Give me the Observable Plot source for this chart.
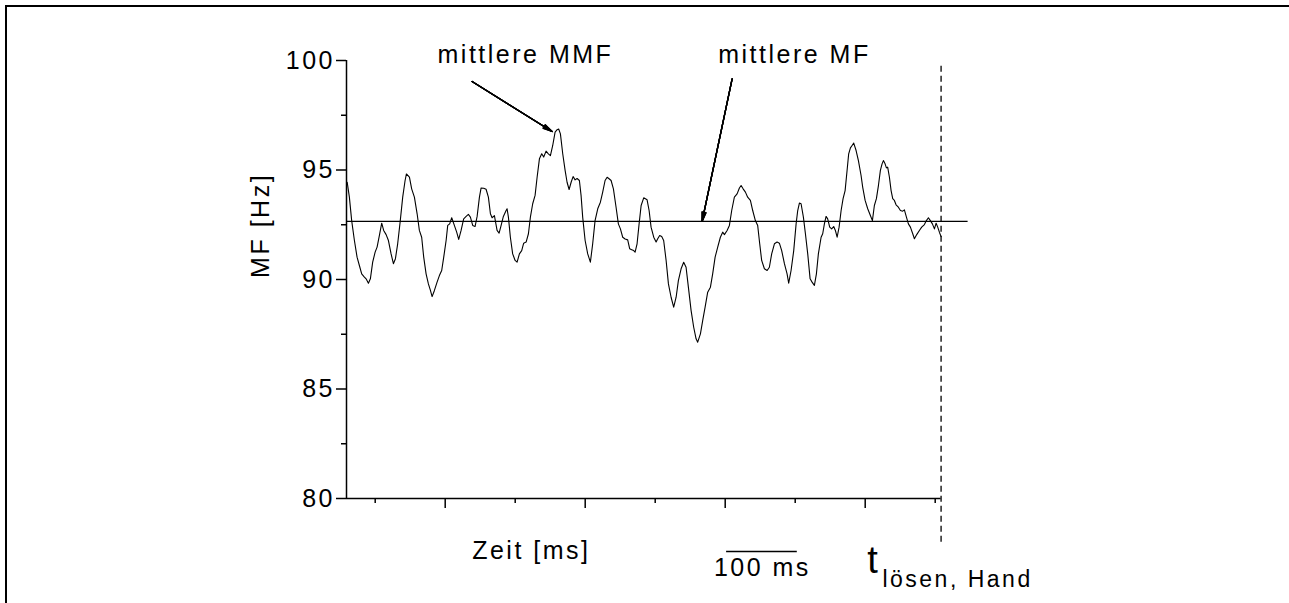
<!DOCTYPE html>
<html>
<head>
<meta charset="utf-8">
<script src="https://cdn.jsdelivr.net/npm/d3@7"></script>
<script src="https://cdn.jsdelivr.net/npm/@observablehq/plot@0.6"></script>
<style>
  html, body { margin: 0; padding: 0; background: #fff; }
  #chart { position: relative; width: 1289px; height: 603px; overflow: hidden; }
  #chart svg { position: absolute; left: 0; top: 0; }
  #rahmen { position: absolute; left: 5px; top: 5px; right: -4px; bottom: -4px;
            border-top: 2px solid #000; border-left: 2px solid #000; pointer-events: none; }
</style>
</head>
<body>
<div id="chart"></div>
<script>
// Median frequency (MF) of the EMG signal over time, up to the release of the hand
const timeMs = [
  60, 63.1, 66.4, 70.3, 74.1, 77.4, 80.7, 84.6, 87.0, 90.3, 93.1, 96.4, 99.9, 102.7, 106.0, 109.3,
  112.1, 115.6, 118.9, 122.7, 126.0, 128.9, 132.1, 135.6, 139.3, 142.7, 144.6, 148.9, 152.1, 156.0,
  159.9, 163.1, 166.4, 169.3, 172.7, 176.0, 178.9, 181.3, 184.6, 188.4, 191.7, 195.0, 197.9, 201.3,
  203.6, 206.4, 209.3, 213.1, 216.4, 219.3, 222.7, 226.4, 229.9, 233.1, 236.0, 239.3, 242.7, 245.6,
  248.9, 251.3, 255.0, 258.4, 261.7, 264.6, 267.0, 270.3, 274.1, 277.0, 279.9, 283.1, 287.0, 288.4,
  290.3, 293.1, 296.4, 299.9, 302.7, 306.0, 309.3, 312.1, 315.6, 318.9, 321.7, 325.0, 328.4, 331.3,
  334.6, 337.9, 340.7, 344.1, 347.4, 350.3, 353.6, 357.0, 359.9, 362.1, 364.6, 367.9, 371.3, 374.1,
  377.0, 379.9, 382.7, 385.6, 388.4, 391.7, 394.1, 396.4, 399.9, 403.6, 407.4, 410.7, 414.1, 417.9,
  421.7, 425.0, 428.4, 431.3, 434.1, 437.0, 440.3, 444.1, 447.4, 450.3, 453.6, 457.0, 460.7, 463.6,
  466.4, 469.3, 471.3, 474.1, 477.0, 479.9, 483.6, 488.4, 491.3, 494.1, 497.9, 501.3, 503.6, 506.4,
  509.3, 512.1, 515.6, 518.9, 522.7, 526.4, 529.9, 533.1, 537.0, 540.7, 544.1, 547.4, 551.3, 555.0,
  558.4, 560.7, 564.6, 567.9, 571.3, 575.0, 578.9, 582.1, 585.6, 589.3, 593.1, 596.4, 598.9, 602.7,
  606.0, 609.3, 613.1, 617.0, 620.3, 622.7, 625.6, 628.9, 632.1, 636.0, 639.3, 643.1, 646.4, 649.3,
  652.1, 656.0, 659.9, 663.1, 666.4, 670.3, 674.1, 677.4, 680.7, 684.6, 688.4, 690.7, 694.1, 697.9,
  701.3, 703.6, 706.0, 708.4, 711.7, 714.6, 717.9, 721.3, 724.1, 727.4, 730.3, 733.1, 737.0, 739.3,
  741.7, 744.1, 746.4, 749.3, 752.1, 755.0, 757.4, 759.9, 762.7, 765.6, 768.4, 771.3, 774.1, 776.4,
  778.9, 781.3, 783.6, 787.0, 790.3, 794.1, 796.4, 799.9, 803.6, 807.4, 810.3, 813.1, 816.0, 818.9,
  821.7, 824.1, 826.0, 828.4, 830.3, 832.1, 834.6, 837.0, 839.3, 841.7, 844.1, 847.4, 850.3, 853.6,
  856.0, 858.9, 861.7, 864.6, 867.9, 870.3, 873.6, 877.4, 880.7, 884.6, 887.4, 890.3, 893.1, 896.0,
  898.9, 901.3, 903.6, 906.0, 908.4
];
const mfHz = [
  94.44, 93.76, 92.69, 91.78, 91.02, 90.64, 90.26, 90.11, 90.03, 89.83, 90.03, 90.79, 91.25, 91.48, 92.01, 92.57,
  92.24, 92.05, 91.78, 91.17, 90.72, 90.95, 91.63, 92.62, 93.76, 94.52, 94.82, 94.67, 94.14, 93.76,
  93.00, 92.24, 91.93, 91.02, 90.26, 89.80, 89.50, 89.22, 89.50, 89.88, 90.18, 90.41, 91.02, 91.78,
  92.47, 92.54, 92.82, 92.47, 92.16, 91.83, 92.24, 92.77, 92.88, 92.97, 92.85, 92.47, 92.42, 92.88,
  93.76, 94.18, 94.17, 94.12, 93.76, 93.00, 92.82, 92.92, 92.24, 92.12, 92.47, 92.88, 93.15, 93.23,
  92.85, 91.93, 91.17, 90.87, 90.79, 91.17, 91.32, 91.66, 91.71, 92.09, 92.85, 93.46, 93.84, 94.67,
  95.51, 95.74, 95.59, 95.86, 95.74, 95.66, 96.12, 96.73, 96.84, 96.87, 96.65, 95.74, 94.98, 94.44,
  94.11, 94.44, 94.70, 94.55, 94.61, 94.52, 93.84, 92.85, 91.78, 91.17, 90.79, 91.63, 92.69, 93.23,
  93.53, 93.99, 94.52, 94.67, 94.60, 94.52, 94.14, 93.30, 92.54, 92.31, 91.93, 91.85, 91.81, 91.40,
  91.36, 91.32, 91.25, 91.63, 92.54, 93.38, 93.73, 93.64, 93.15, 92.39, 91.93, 91.71, 91.86, 92.01,
  91.96, 91.78, 90.87, 89.80, 89.19, 88.74, 89.19, 89.95, 90.49, 90.79, 90.56, 89.65, 88.58, 87.82,
  87.29, 87.14, 87.52, 88.13, 88.74, 89.42, 89.65, 90.26, 91.02, 91.48, 91.93, 92.16, 92.05, 92.24,
  92.47, 93.15, 93.76, 93.91, 94.18, 94.29, 94.14, 93.99, 93.76, 93.61, 93.15, 92.69, 92.47, 91.63,
  90.87, 90.49, 90.41, 90.56, 91.17, 91.63, 91.71, 91.66, 91.32, 90.72, 90.26, 89.83, 90.41, 91.32,
  92.54, 93.15, 93.49, 93.46, 92.85, 92.09, 91.17, 90.03, 89.88, 89.73, 90.26, 91.17, 91.93, 92.09,
  92.54, 92.88, 92.77, 92.39, 92.31, 92.42, 92.24, 91.93, 92.39, 93.15, 93.69, 94.06, 94.98, 95.74,
  96.01, 96.12, 96.23, 95.89, 95.43, 94.75, 94.22, 93.61, 93.23, 92.92, 92.69, 93.38, 93.69, 94.29,
  94.98, 95.28, 95.43, 95.28, 95.10, 95.13, 94.67, 94.06, 93.69, 93.61, 93.41, 93.30, 93.15, 93.12,
  93.18, 92.85, 92.54, 92.39, 92.09, 91.86, 92.05, 92.24, 92.39, 92.51, 92.69, 92.82, 92.69, 92.54,
  92.31, 92.57, 92.39, 92.16, 91.96
];

const meanMF = 92.65;          // mittlere MF over the whole segment
const releaseMs = 908.4;       // t_lösen, Hand
const scaleBarMs = [602, 703]; // 100 ms reference bar

const yTicksMajor = [80, 85, 90, 95, 100];
const yTicksMinor = [82.5, 87.5, 92.5, 97.5];
const xTicksMajor = [200, 400, 600, 800];
const xTicksMinor = [100, 300, 500, 700, 900];

const yLabel = "MF [Hz]";
const xLabel = "Zeit [ms]";
const scaleBarLabel = "100 ms";
const mmfLabel = "mittlere MMF";
const mfLabel = "mittlere MF";
const releaseMain = "t";
const releaseSub = "lösen, Hand";

const signal = timeMs.map((t, i) => ({t, mf: mfHz[i]}));
const one = [0];
const fontFamily = "'Liberation Sans', Arial, Helvetica, sans-serif";

// annotation arrow with a solid-looking head (several narrow heads stacked)
function pointer(x1, y1, x2, y2) {
  return [4, 10, 16, 22, 26].map((angle) =>
    Plot.arrow(one, {x1, y1, x2, y2, headAngle: angle, headLength: 11, strokeWidth: 1.3})
  );
}

const chart = Plot.plot({
  width: 1289,
  height: 603,
  marginLeft: 346,
  marginRight: 348,
  marginTop: 60,
  marginBottom: 105,
  style: {fontFamily, fontSize: "25px", letterSpacing: "2.5px", background: "transparent", color: "#000", overflow: "visible"},
  x: {domain: [59, 909]},
  y: {domain: [80, 100]},
  marks: [
    // axes
    Plot.axisY({ticks: yTicksMajor, tickSize: 10, tickPadding: 1.5, strokeWidth: 1.5, fontSize: 25, label: null}),
    Plot.axisY({ticks: yTicksMinor, tickSize: 5, strokeWidth: 1.5, tickFormat: () => "", label: null}),
    Plot.axisX({ticks: xTicksMajor, tickSize: 10, strokeWidth: 1.5, tickFormat: () => "", label: null}),
    Plot.axisX({ticks: xTicksMinor, tickSize: 5, strokeWidth: 1.5, tickFormat: () => "", label: null}),
    Plot.ruleX([59], {y1: 80, y2: 100, strokeWidth: 1.5}),
    Plot.ruleY([80], {x1: 59, x2: releaseMs, strokeWidth: 1.5}),

    // mean level and release marker
    Plot.ruleY([meanMF], {x1: 59, x2: 947, strokeWidth: 1.3}),
    Plot.ruleX([releaseMs], {y1: 78, y2: 99.9, strokeWidth: 1.3, strokeDasharray: "6,4"}),

    // MF trace
    Plot.line(signal, {x: "t", y: "mf", stroke: "#000", strokeWidth: 1.1}),

    // annotations
    ...pointer(238.4, 99.04, 352.7, 96.76),
    ...pointer(609.9, 99.16, 567.0, meanMF),
    Plot.text([mmfLabel], {x: 314.6, y: 99.9, text: d => d, fontSize: 25, lineAnchor: "bottom"}),
    Plot.text([mfLabel], {x: 698.9, y: 99.9, text: d => d, fontSize: 25, lineAnchor: "bottom"}),
    Plot.text([yLabel], {x: -62.6, y: 92.47, text: d => d, fontSize: 25, rotate: -90}),
    Plot.text([xLabel], {x: 323.1, y: 77.26, text: d => d, fontSize: 25, lineAnchor: "bottom"}),
    Plot.ruleY([77.58], {x1: scaleBarMs[0], x2: scaleBarMs[1], strokeWidth: 1.5}),
    Plot.text([scaleBarLabel], {x: 653.1, y: 76.44, text: d => d, fontSize: 25, lineAnchor: "bottom"}),
    Plot.text([releaseMain], {x: 803.1, y: 76.62, text: d => d, fontSize: 38, textAnchor: "start", lineAnchor: "bottom"}),
    Plot.text([releaseSub], {x: 824.6, y: 75.94, text: d => d, fontSize: 23, textAnchor: "start", lineAnchor: "bottom"})
  ]
});

const holder = document.getElementById("chart");
holder.appendChild(chart);
const rahmen = document.createElement("div");
rahmen.id = "rahmen";
holder.appendChild(rahmen);
</script>
</body>
</html>
